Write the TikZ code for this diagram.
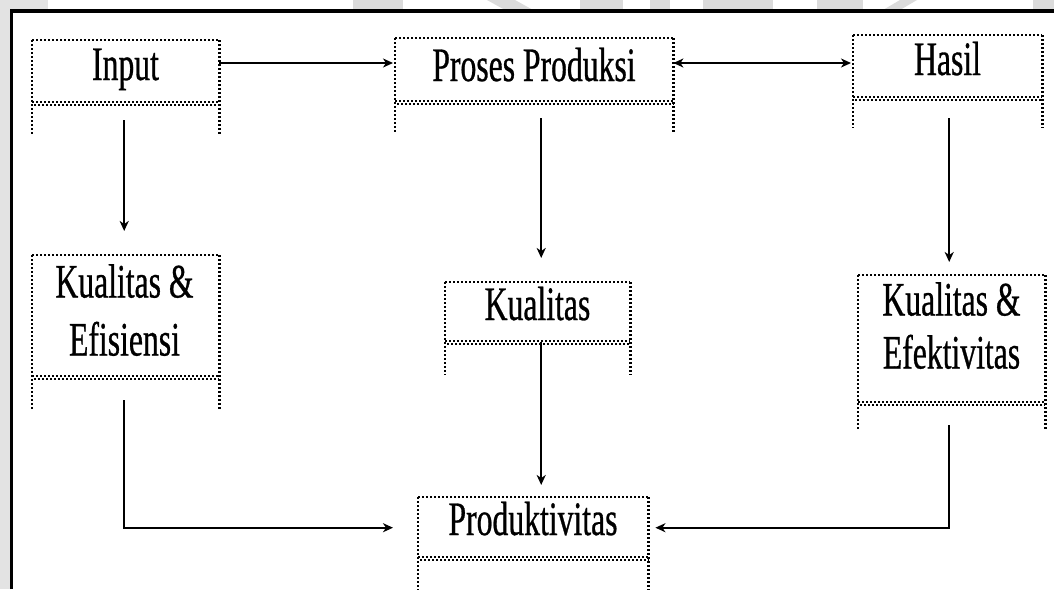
\documentclass[tikz,border=0pt]{standalone}
\usepackage{fontspec}
\setmainfont{Liberation Serif}
\newfontfamily\narrowserif[FakeStretch=0.66,FakeBold=0.6]{Liberation Serif}
\usetikzlibrary{arrows.meta,calc}

% table-like box: dotted top and sides, doubled dotted rule under the header,
% sides running on below the rule
% #1 name, #2 left, #3 right, #4 top, #5 rule, #6 end of sides
\newcommand\tablebox[6]{%
  \node[inner sep=0pt, minimum width={#3pt-#2pt}, minimum height={#5pt-#4pt},
        anchor=north west] (#1) at (#2,#4) {};
  \draw[dotrule] (#1.north west) -- (#1.north east);
  \draw[dotrule] (#1.north west) -- ++(0,#6-#4);
  \draw[dotrule] (#1.north east) -- ++(0,#6-#4);
  \draw[dotrule] ([yshift=1.5pt]#1.south west) -- ([yshift=1.5pt]#1.south east);
  \draw[dotrule, dash phase=2pt] ([yshift=-1.5pt]#1.south west) -- ([yshift=-1.5pt]#1.south east);
}

\begin{document}
\begin{tikzpicture}[x=1pt, y=-1pt,
  dotrule/.style={line width=2.3pt, black, dash pattern=on 2pt off 2pt},
  conn/.style={line width=1.8pt, -{Stealth[length=10pt, width=9pt, inset=3pt]}},
  twoway/.style={line width=1.8pt, {Stealth[length=10pt, width=9pt, inset=3pt]}-{Stealth[length=10pt, width=9pt, inset=3pt]}},
  lbl/.style={font=\narrowserif\fontsize{48}{58}\selectfont, inner sep=0pt, align=center},
  topmark/.style={fill=black!14}
]
\useasboundingbox (0,0) rectangle (1054,589);

% page background, grey margin and faint top marks
\fill[white] (0,0) rectangle (1054,589);
\fill[black!11] (0,0) rectangle (10,589);
\fill[black!11] (0,0) rectangle (48,10);
\fill[topmark] (353,0) rectangle (403,10);
\fill[topmark] (487,0) -- (515,0) -- (533,10) -- (505,10) -- cycle;
\fill[topmark] (580,0) rectangle (623,10);
\fill[topmark] (650,0) rectangle (670,10);
\fill[topmark] (703,0) rectangle (773,10);
\fill[topmark] (817,0) rectangle (863,10);
\fill[topmark] (900,0) -- (917,0) -- (900,10) -- (883,10) -- cycle;
\fill[topmark] (1033,0) rectangle (1054,10);

% frame
\draw[line width=3.5pt] (11.5,589) -- (11.5,11) -- (1054,11);

% boxes
\tablebox{input}{32}{219}{40}{103}{135}
\tablebox{proses}{395}{673}{38}{102}{132}
\tablebox{hasil}{853}{1042}{35}{98}{128}
\tablebox{kefis}{32}{219}{255}{377}{410}
\tablebox{kual}{445}{630}{282}{342}{375}
\tablebox{kefek}{858}{1045}{275}{403}{430}
\tablebox{produk}{418}{648}{497}{558}{600}

% labels
\node[lbl, anchor=base] (input-t) at (125.5,80) {Input};
\node[lbl, anchor=base] (proses-t) at (534,81) {Proses Produksi};
\node[lbl, anchor=base] (hasil-t) at (947.5,75) {Hasil};
\node[lbl, anchor=north] (kefis-t) at (124.5,264) {Kualitas \&\\Efisiensi};
\node[lbl, anchor=north, font=\narrowserif\fontsize{48}{53}\selectfont] (kefek-t) at (951.5,282) {Kualitas \&\\Efektivitas};
\node[lbl, anchor=base] (kual-t) at (537.5,320) {Kualitas};
\node[lbl, anchor=base] (produk-t) at (533,535) {Produktivitas};

% connectors
\draw[conn, shorten >=2pt] ($(input.north east)+(0,23)$) coordinate (a1) -- (a1 -| proses.west);
\draw[twoway, shorten >=2pt] ($(proses.north east)+(0,25)$) coordinate (a2) -- (a2 -| hasil.west);
\draw[conn, shorten >=24pt] ($(input.south)+(-1.5,17)$) coordinate (a3) -- (a3 |- kefis.north);
\draw[conn, shorten >=24pt] ($(proses.south)+(7,16)$) coordinate (a4) -- (a4 |- kual.north);
\draw[conn, shorten >=13pt] ($(hasil.south)+(1.5,20)$) coordinate (a5) -- (a5 |- kefek.north);
\draw[conn, shorten >=12pt] ($(kual.south)+(3.5,0)$) coordinate (a6) -- (a6 |- produk.north);
\draw[conn, shorten >=25pt] ($(kefis.south)+(-1.5,23)$) |- (produk.west);
\draw[conn, shorten >=7pt] ($(kefek.south)+(-2.5,22)$) |- (produk.east);
\end{tikzpicture}
\end{document}
